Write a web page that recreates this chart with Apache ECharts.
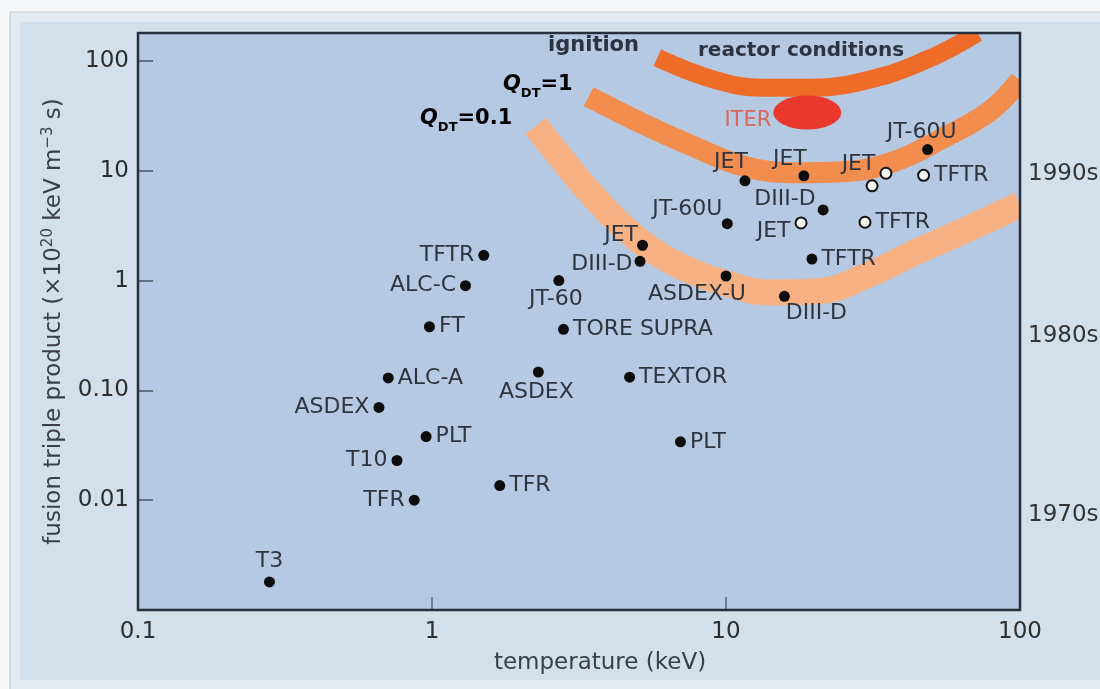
<!DOCTYPE html>
<html><head><meta charset="utf-8">
<script src="https://cdn.jsdelivr.net/npm/echarts/dist/echarts.min.js"></script>
<style>html,body{margin:0;padding:0;background:#f6f7f8;} #c{width:1100px;height:689px;}</style>
</head><body><div id="c"></div>
<script>
// ---------- data ----------
const xTickLabels = {'-1':'0.1','0':'1','1':'10','2':'100'};
const yTickLabels = {'-2':'0.01','-1':'0.10','0':'1','1':'10','2':'100'};
const decadeLabels = ['1990s','1980s','1970s'];

// filled markers: machine, temperature (keV), triple product
const filledNames = ['T3','TFR','T10','PLT','ASDEX','ALC-A','FT','ALC-C','TFTR','TFR','ASDEX','TEXTOR','PLT','TORE SUPRA','JT-60','DIII-D','JET','ASDEX-U','DIII-D','TFTR','JT-60U','DIII-D','JET','JET','JT-60U'];
const filledT = [0.28,0.87,0.76,0.955,0.66,0.71,0.98,1.3,1.5,1.7,2.3,4.7,7.0,2.8,2.7,5.1,5.2,10,15.8,19.6,10.1,21.4,11.6,18.4,48.5];
const filledP = [0.0018,0.0100,0.023,0.038,0.070,0.13,0.38,0.90,1.7,0.0136,0.147,0.132,0.034,0.36,1.0,1.5,2.1,1.1,0.72,1.57,3.3,4.4,8.1,9.0,15.6];

// open markers
const openNames = ['JET','','TFTR','JET','TFTR'];
const openT = [35,31.4,47,18,29.7];
const openP = [9.5,7.3,9.1,3.35,3.4];

// ITER
const iterName = ['ITER'];
const iterT = [18.9];
const iterP = [34];

// bands
const ignitionT = [5.84,9.03,13.3,19.6,33.0,48.6,63,71.6];
const ignitionP = [107,68,57,57,71,104,147,180];
const q1T = [3.41,5.23,7.73,11.4,16.8,24.8,36.5,53.8,79.2,100];
const q1P = [47.4,26.7,16.7,11.1,9.6,9.8,11.9,19.4,35.2,66.7];
const q01T = [2.25,2.59,3.35,4.37,5.66,7.32,9.55,14.1,20.7,30.5,45.0,66.3,100];
const q01P = [25.5,16.0,6.89,3.26,1.86,1.28,0.98,0.78,0.80,1.13,1.86,2.94,4.94];

// ---------- label layout (not data) ----------
const filledLabelPos = ['top','left','left','right','left','right','right','left','left','right','bottom','right','right','right','bottom','left','left','bottom','bottom','right','top','left','top','top','top'];
const filledLabelOff = [[0,0],[0,0],[0,0],[0,0],[0,0],[0,0],[0,0],[0,0],[0,0],[0,0],[-2,0],[0,0],[0,0],[0,0],[-3,-2],[2,3],[5,-10],[-29,-2],[32,-3],[0,0],[-40,6],[2,-11],[-14,2],[-14,4],[-6,3]];
const openLabelPos = ['left','left','right','left','right'];
const openLabelOff = [[0,-9],[0,0],[0,0],[0,8],[0,0]];

const FONT = 'DejaVu Sans';
const PANEL = '#d1e0eb';
const G = {left:138, top:33, right:1020, bottom:610};
const pair = (a,b) => a.map((v,i)=>[v,b[i]]);
const logKey = v => { const l = Math.round(Math.log10(v)*1000)/1000; return Number.isInteger(l) ? String(l) : null; };

const chart = echarts.init(document.getElementById('c'), null, {renderer:'canvas'});

const pointItems = (names,T,P,pos,off) => names.map((n,i)=>({
  name:n, value:[T[i],P[i]],
  label:{show:n!=='', position:pos[i], offset:off[i]}
}));

const labelStyle = {fontFamily:FONT, fontSize:22, color:'#2f353f', distance:4, formatter:p=>p.name};

const supRich = {
  n:{fontFamily:FONT,fontSize:23,color:'#3a3f47',verticalAlign:'bottom'},
  sup:{fontFamily:FONT,fontSize:15,color:'#3a3f47',verticalAlign:'bottom',padding:[0,0,10,0]}
};
const qRich = {
  qi:{fontFamily:FONT,fontSize:21,fontWeight:'bold',fontStyle:'italic',color:'#2b3440',verticalAlign:'bottom',padding:[0,0,5,0]},
  s:{fontFamily:FONT,fontSize:13,fontWeight:'bold',color:'#2b3440',verticalAlign:'bottom'},
  b:{fontFamily:FONT,fontSize:21,fontWeight:'bold',color:'#2b3440',verticalAlign:'bottom',padding:[0,0,5,0]}
};

const option = {
  animation:false,
  backgroundColor:'transparent',
  graphic:[
    {type:'rect', z:-10, shape:{x:10,y:12,width:1095,height:680}, style:{fill:'#e3ebf1',stroke:'#c3c9cf',lineWidth:1}},
    {type:'rect', z:-9, shape:{x:20,y:22,width:1085,height:658}, style:{fill:PANEL}},
    // masks so the thick bands end cleanly at the frame
    {type:'rect', z:100, shape:{x:G.left,y:22,width:G.right-G.left+20,height:G.top-22}, style:{fill:PANEL}},
    {type:'rect', z:100, shape:{x:G.right,y:22,width:1100-G.right,height:G.bottom-22}, style:{fill:PANEL}},
    {type:'rect', z:101, shape:{x:G.left,y:G.top,width:G.right-G.left,height:G.bottom-G.top}, style:{fill:'none',stroke:'#26303c',lineWidth:2.5}},
    {type:'text', z:102, left:548, top:35, style:{text:'ignition', fontFamily:FONT, fontSize:21, fontWeight:'bold', fill:'#2b3440'}},
    {type:'text', z:102, left:698, top:41, style:{text:'reactor conditions', fontFamily:FONT, fontSize:20, fontWeight:'bold', fill:'#2b3440'}},
    {type:'text', z:102, left:503, top:74, style:{text:'{qi|Q}{s|DT}{b|=1}', rich:qRich}},
    {type:'text', z:102, left:420, top:108, style:{text:'{qi|Q}{s|DT}{b|=0.1}', rich:qRich}},
    {type:'text', z:102, left:1028, top:163, style:{text:decadeLabels[0], fontFamily:FONT, fontSize:23, fill:'#333'}},
    {type:'text', z:102, left:1028, top:325, style:{text:decadeLabels[1], fontFamily:FONT, fontSize:23, fill:'#333'}},
    {type:'text', z:102, left:1028, top:504, style:{text:decadeLabels[2], fontFamily:FONT, fontSize:23, fill:'#333'}}
  ],
  grid:{left:G.left, right:1100-G.right, top:G.top, bottom:689-G.bottom, show:true, backgroundColor:'#b5c9e3', borderWidth:0},
  xAxis:{
    type:'log', logBase:10, min:0.1, max:100,
    axisLine:{show:false},
    axisTick:{show:true, inside:true, length:13, lineStyle:{color:'#5a6472', width:1.5}},
    splitLine:{show:false}, minorTick:{show:false},
    axisLabel:{margin:11, fontFamily:FONT, fontSize:23, color:'#2d2d2d', formatter:v=>{const k=logKey(v); return k!==null && xTickLabels[k]!==undefined ? xTickLabels[k] : '';}},
    name:'temperature (keV)', nameLocation:'middle', nameGap:42,
    nameTextStyle:{fontFamily:FONT, fontSize:23, color:'#3a3f47', padding:[0,0,0,42]}
  },
  yAxis:{
    type:'log', logBase:10, min:0.001, max:180,
    axisLine:{show:false},
    axisTick:{show:true, inside:true, length:15, lineStyle:{color:'#4a5462', width:1.5}},
    splitLine:{show:false}, minorTick:{show:false},
    axisLabel:{margin:9, fontFamily:FONT, fontSize:23, color:'#2d2d2d', formatter:v=>{const k=logKey(v); return k!==null && yTickLabels[k]!==undefined ? yTickLabels[k] : '';}},
    name:'{n|fusion triple product (×10}{sup|20}{n| keV m}{sup|−3}{n| s)}',
    nameLocation:'middle', nameGap:72, nameRotate:90,
    nameTextStyle:{rich:supRich}
  },
  series:[
    {type:'line', name:'Q=0.1', data:pair(q01T,q01P), smooth:0.4, symbol:'none', z:1, clip:true,
     lineStyle:{color:'#f8b182', width:26, cap:'butt'}},
    {type:'line', name:'Q=1', data:pair(q1T,q1P), smooth:0.4, symbol:'none', z:1, clip:true,
     lineStyle:{color:'#f28d4e', width:21, cap:'butt'}},
    {type:'line', name:'ignition', data:pair(ignitionT,ignitionP), smooth:0.4, symbol:'none', z:1, clip:true,
     lineStyle:{color:'#ef6c28', width:18, cap:'butt'}},
    {type:'scatter', name:'ITER', z:3, symbol:'circle', symbolSize:[68,34],
     data:iterName.map((n,i)=>({name:n, value:[iterT[i],iterP[i]]})),
     itemStyle:{color:'#e8392c', opacity:1},
     label:{show:true, position:'left', distance:2, offset:[0,8], fontFamily:FONT, fontSize:21, color:'#d8665c', formatter:p=>p.name}},
    {type:'scatter', name:'filled', z:4, symbol:'circle', symbolSize:11,
     data:pointItems(filledNames,filledT,filledP,filledLabelPos,filledLabelOff),
     itemStyle:{color:'#0d0d0d', opacity:1}, label:labelStyle},
    {type:'scatter', name:'open', z:4, symbol:'circle', symbolSize:11,
     data:pointItems(openNames,openT,openP,openLabelPos,openLabelOff),
     itemStyle:{color:'#f5f5f0', borderColor:'#111', borderWidth:2, opacity:1}, label:labelStyle}
  ]
};
chart.setOption(option);
</script>
</body></html>
